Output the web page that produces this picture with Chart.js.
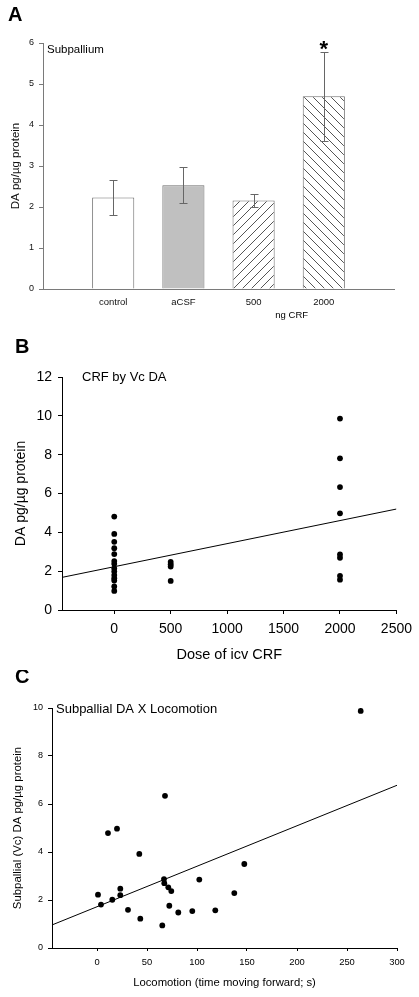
<!DOCTYPE html>
<html>
<head>
<meta charset="utf-8">
<title>Subpallial DA and CRF</title>
<script src="https://cdn.jsdelivr.net/npm/chart.js@4.4.1/dist/chart.umd.min.js"></script>
<style>
  html, body { margin: 0; padding: 0; background: #fff; }
  body { width: 419px; height: 997px; position: relative; overflow: hidden; }
  .panel { position: absolute; left: 0; width: 419px; }
  #panelA { top: 0; height: 325px; }
  #panelB { top: 325px; height: 345px; }
  #panelC { top: 670px; height: 327px; }
</style>
</head>
<body>
<div class="panel" id="panelA"><canvas id="chartA"></canvas></div>
<div class="panel" id="panelB"><canvas id="chartB"></canvas></div>
<div class="panel" id="panelC"><canvas id="chartC"></canvas></div>
<script>
// Panel A - subpallial DA per treatment group (mean +/- SEM)
const groupLabels = ['control', 'aCSF', '500', '2000'];
const groupMeans = [2.23, 2.53, 2.16, 4.70];
const groupErr = [0.42, 0.44, 0.15, 1.08];
const daTicksA = [0, 1, 2, 3, 4, 5, 6];

// Panel B - DA against icv CRF dose
const crfDose = [0, 0, 0, 0, 0, 0, 0, 0, 0, 0, 0, 0, 0, 0,
                 500, 500, 500, 500,
                 2000, 2000, 2000, 2000, 2000, 2000, 2000, 2000];
const crfDA = [4.81, 3.92, 3.51, 3.18, 2.88, 2.52, 2.38, 2.14, 1.98, 1.80, 1.64, 1.52, 1.21, 0.98,
               2.48, 2.36, 2.24, 1.50,
               9.86, 7.81, 6.33, 4.98, 2.86, 2.69, 1.76, 1.56];
const crfFitX = [-463, 2500];
const crfFitY = [1.68, 5.20];
const doseTicks = [0, 500, 1000, 1500, 2000, 2500];
const daTicksB = [0, 2, 4, 6, 8, 10, 12];

// Panel C - DA against locomotion
const locoTime = [1, 4, 11, 15.3, 20, 23.3, 23.3, 31, 42.3, 43.3, 65.3, 67, 67.3, 68,
                  71.3, 72.3, 74.3, 81.3, 95.3, 102.3, 118.3, 137.3, 147.3, 263.7];
const locoDA = [2.22, 1.81, 4.79, 2.01, 4.97, 2.47, 2.20, 1.59, 3.92, 1.22, 0.94, 2.87, 2.70, 6.34,
                2.53, 1.76, 2.37, 1.48, 1.54, 2.85, 1.57, 2.29, 3.50, 9.88];
const locoFitX = [-45, 300];
const locoFitY = [0.96, 6.78];
const locoTicks = [0, 50, 100, 150, 200, 250, 300];
const daTicksC = [0, 2, 4, 6, 8, 10];

const FONT = '"Liberation Sans", Arial, sans-serif';
Chart.defaults.font.family = FONT;
Chart.defaults.color = '#000';

// hatch fill for the CRF bars
function makeHatch(forward) {
    const c = document.createElement('canvas');
    const s = 9;
    c.width = s;
    c.height = s;
    const g = c.getContext('2d');
    g.fillStyle = '#fff';
    g.fillRect(0, 0, s, s);
    g.strokeStyle = '#555';
    g.lineWidth = 1;
    g.beginPath();
    if (forward) {
        g.moveTo(0, s); g.lineTo(s, 0);
        g.moveTo(-1, 1); g.lineTo(1, -1);
        g.moveTo(s - 1, s + 1); g.lineTo(s + 1, s - 1);
    } else {
        g.moveTo(0, 0); g.lineTo(s, s);
        g.moveTo(-1, s - 1); g.lineTo(1, s + 1);
        g.moveTo(s - 1, -1); g.lineTo(s + 1, 1);
    }
    g.stroke();
    return c.getContext('2d').createPattern(c, 'repeat');
}

function fixedTicks(list) {
    return function(scale) {
        scale.ticks = list.map(v => ({ value: v }));
    };
}

// plain numbers, no thousands separator
const plainLabel = v => String(v);

// panel letter + the note written inside the plot
const panelText = {
    id: 'panelText',
    afterDraw(chart, args, opts) {
        const ctx = chart.ctx;
        const area = chart.chartArea;
        ctx.save();
        ctx.fillStyle = '#000';
        ctx.textAlign = 'left';
        ctx.textBaseline = 'alphabetic';
        ctx.font = 'bold 20px ' + FONT;
        ctx.fillText(opts.letter, opts.letterX, opts.letterY);
        ctx.font = opts.noteSize + 'px ' + FONT;
        ctx.fillText(opts.note, area.left + opts.noteDx, area.top + opts.noteDy);
        ctx.restore();
    }
};

// error bars, star and "ng CRF" for panel A
const errorBars = {
    id: 'errorBars',
    afterDatasetsDraw(chart) {
        const ctx = chart.ctx;
        const y = chart.scales.y;
        const bars = chart.getDatasetMeta(0).data;
        ctx.save();
        ctx.strokeStyle = '#666';
        ctx.lineWidth = 1;
        groupMeans.forEach((m, i) => {
            const px = Math.round(bars[i + 1].x) + 0.5;
            const top = Math.round(y.getPixelForValue(m + groupErr[i])) + 0.5;
            const bot = Math.round(y.getPixelForValue(m - groupErr[i])) + 0.5;
            ctx.beginPath();
            ctx.moveTo(px, top); ctx.lineTo(px, bot);
            ctx.moveTo(px - 4, top); ctx.lineTo(px + 4, top);
            ctx.moveTo(px - 4, bot); ctx.lineTo(px + 4, bot);
            ctx.stroke();
        });

        // significance star over the 2000 ng bar
        const last = groupMeans.length - 1;
        const starX = bars[last + 1].x;
        const starBottom = y.getPixelForValue(groupMeans[last] + groupErr[last]) - 2;
        ctx.fillStyle = '#000';
        ctx.font = 'bold 22px ' + FONT;
        ctx.textAlign = 'center';
        ctx.textBaseline = 'alphabetic';
        const m = ctx.measureText('*');
        ctx.fillText('*', starX, starBottom - m.actualBoundingBoxDescent);

        // dose unit under the two CRF groups
        ctx.font = '9.5px ' + FONT;
        ctx.textBaseline = 'middle';
        ctx.fillText('ng CRF', (bars[3].x + bars[4].x) / 2 + 3, 315);
        ctx.restore();
    }
};

const hatchFwd = makeHatch(true);
const hatchBack = makeHatch(false);

// Panel A
new Chart(document.getElementById('chartA'), {
    type: 'bar',
    data: {
        labels: ['', ...groupLabels, ''],
        datasets: [{
            data: [null, ...groupMeans, null],
            backgroundColor: ['transparent', '#ffffff', '#c0c0c0', hatchFwd, hatchBack, 'transparent'],
            borderColor: '#6e6e6e',
            borderWidth: 1,
            categoryPercentage: 1,
            barPercentage: 0.6
        }]
    },
    options: {
        responsive: true,
        maintainAspectRatio: false,
        devicePixelRatio: 1,
        animation: false,
        events: [],
        layout: { padding: { top: 43, right: 25, left: 0, bottom: 0 } },
        plugins: {
            legend: { display: false },
            tooltip: { enabled: false },
            panelText: { letter: 'A', letterX: 8, letterY: 21, note: 'Subpallium', noteSize: 11.5, noteDx: 4, noteDy: 10 }
        },
        scales: {
            x: {
                offset: false,
                afterFit: s => { s.height = 36; },
                grid: { display: false, drawTicks: false },
                border: { color: '#7a7a7a', width: 1 },
                ticks: { autoSkip: false, maxRotation: 0, padding: 8, color: '#111', font: { size: 9.5 } }
            },
            y: {
                min: 0,
                max: 6,
                afterFit: s => { s.width = 43; },
                afterBuildTicks: fixedTicks(daTicksA),
                grid: { drawOnChartArea: false, drawTicks: true, tickLength: 4, color: '#7a7a7a' },
                border: { color: '#7a7a7a', width: 1 },
                ticks: { padding: 5, color: '#111', font: { size: 9 }, callback: plainLabel },
                title: { display: true, text: 'DA pg/µg protein', color: '#111', font: { size: 11.5 }, padding: { top: 9, bottom: 0 } }
            }
        }
    },
    plugins: [errorBars, panelText]
});

// Panel B
new Chart(document.getElementById('chartB'), {
    type: 'scatter',
    data: {
        datasets: [{
            data: crfDose.map((x, i) => ({ x: x, y: crfDA[i] })),
            pointRadius: 2.9,
            backgroundColor: '#000',
            borderWidth: 0
        }, {
            data: crfFitX.map((x, i) => ({ x: x, y: crfFitY[i] })),
            showLine: true,
            pointRadius: 0,
            borderColor: '#000',
            borderWidth: 1
        }]
    },
    options: {
        responsive: true,
        maintainAspectRatio: false,
        devicePixelRatio: 1,
        animation: false,
        events: [],
        layout: { padding: { top: 52, right: 22, left: 0, bottom: 0 } },
        plugins: {
            legend: { display: false },
            tooltip: { enabled: false },
            panelText: { letter: 'B', letterX: 15, letterY: 28, note: 'CRF by Vc DA', noteSize: 13, noteDx: 20, noteDy: 4 }
        },
        scales: {
            x: {
                type: 'linear',
                min: -463,
                max: 2500,
                afterFit: s => { s.height = 60; },
                afterBuildTicks: fixedTicks(doseTicks),
                grid: { drawOnChartArea: false, drawTicks: true, tickLength: 4, color: '#000' },
                border: { color: '#000', width: 1 },
                ticks: { padding: 7, font: { size: 14 }, callback: plainLabel },
                title: { display: true, text: 'Dose of icv CRF', font: { size: 14.5 }, padding: { top: 0, bottom: 6 } }
            },
            y: {
                min: 0,
                max: 12,
                afterFit: s => { s.width = 62; },
                afterBuildTicks: fixedTicks(daTicksB),
                grid: { drawOnChartArea: false, drawTicks: true, tickLength: 4, color: '#000' },
                border: { color: '#000', width: 1 },
                ticks: { padding: 6, font: { size: 14 }, callback: plainLabel },
                title: { display: true, text: 'DA pg/µg protein', font: { size: 14 }, padding: { top: 12.5, bottom: 0 } }
            }
        }
    },
    plugins: [panelText]
});

// Panel C
new Chart(document.getElementById('chartC'), {
    type: 'scatter',
    data: {
        datasets: [{
            data: locoTime.map((x, i) => ({ x: x, y: locoDA[i] })),
            pointRadius: 2.9,
            backgroundColor: '#000',
            borderWidth: 0
        }, {
            data: locoFitX.map((x, i) => ({ x: x, y: locoFitY[i] })),
            showLine: true,
            pointRadius: 0,
            borderColor: '#000',
            borderWidth: 1
        }]
    },
    options: {
        responsive: true,
        maintainAspectRatio: false,
        devicePixelRatio: 1,
        animation: false,
        events: [],
        layout: { padding: { top: 38, right: 22, left: 0, bottom: 0 } },
        plugins: {
            legend: { display: false },
            tooltip: { enabled: false },
            panelText: { letter: 'C', letterX: 15, letterY: 13, note: 'Subpallial DA X Locomotion', noteSize: 13, noteDx: 4, noteDy: 5 }
        },
        scales: {
            x: {
                type: 'linear',
                min: -45,
                max: 300,
                afterFit: s => { s.height = 49; },
                afterBuildTicks: fixedTicks(locoTicks),
                grid: { drawOnChartArea: false, drawTicks: true, tickLength: 3, color: '#000' },
                border: { color: '#000', width: 1 },
                ticks: { padding: 6, font: { size: 9.4 }, callback: plainLabel },
                title: { display: true, text: 'Locomotion (time moving forward; s)', font: { size: 11.3 }, padding: { top: 0, bottom: 7 } }
            },
            y: {
                min: 0,
                max: 10,
                afterFit: s => { s.width = 52; },
                afterBuildTicks: fixedTicks(daTicksC),
                grid: { drawOnChartArea: false, drawTicks: true, tickLength: 4, color: '#000' },
                border: { color: '#000', width: 1 },
                ticks: { padding: 5, font: { size: 9 }, callback: plainLabel },
                title: { display: true, text: 'Subpallial (Vc) DA pg/µg protein', font: { size: 11.4 }, padding: { top: 11, bottom: 0 } }
            }
        }
    },
    plugins: [panelText]
});
</script>
</body>
</html>
